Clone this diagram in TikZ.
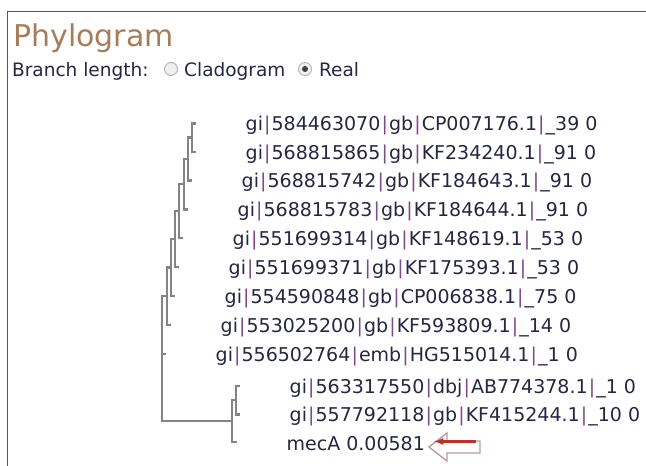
\documentclass[tikz,border=0pt]{standalone}
\usepackage{fontspec}
\setmainfont{DejaVu Sans}
\usetikzlibrary{positioning}
\definecolor{titlebrown}{RGB}{168,124,88}
\definecolor{navytext}{RGB}{38,38,66}
\definecolor{pipepurple}{RGB}{128,72,140}
\definecolor{branchgray}{RGB}{132,132,132}
\definecolor{framegray}{RGB}{85,85,85}
\definecolor{arrowred}{RGB}{192,48,42}
\definecolor{arrowrim}{RGB}{185,155,155}
\newcommand{\pp}{\kern1.1pt\textcolor{pipepurple}{|}\kern1.1pt}
\newcommand{\gi}[4]{gi\pp#1\pp#2\pp#3\pp\_#4 0}

\begin{document}
\begin{tikzpicture}[x=1pt,y=-1pt,
    branch/.style={draw=branchgray,line width=2.7pt},
    leaf/.style={text=navytext,inner sep=0pt,anchor=west,yshift=-2pt,
      font=\fontsize{19}{23}\selectfont},
    radio/.style={circle,draw=gray!60,fill=gray!12,line width=0.9pt,
      minimum size=13pt,inner sep=0pt}]
      \useasboundingbox (0,0) rectangle (646,466);
      \draw[framegray,line width=1.5pt] (7.5,466) -- (7.5,11.5) -- (646,11.5);

      % header
      \node[anchor=base west,inner sep=0pt,text=titlebrown,
        font=\fontsize{30}{34}\selectfont] (title) at (13,46) {Phylogram};
      \node[anchor=base west,inner sep=0pt,text=navytext,
        font=\fontsize{18.5}{22}\selectfont] (blen) at (12,76) {Branch length:};
      \node[radio] (rclad) at (171,69) {};
      \node[anchor=base west,inner sep=0pt,text=navytext,
        font=\fontsize{18.5}{22}\selectfont] (clad) at (184,76) {Cladogram};
      \node[radio] (rreal) at (305,69) {};
      \fill[black!75] (rreal.center) circle (3);
      \node[anchor=base west,inner sep=0pt,text=navytext,
        font=\fontsize{18.5}{22}\selectfont] (real) at (319,76) {Real};

      % leaf tips
      \coordinate (l1) at (196,123.5);
      \coordinate (l2) at (196,152);
      \coordinate (l3) at (192,180.5);
      \coordinate (l4) at (188,209.5);
      \coordinate (l5) at (183,238);
      \coordinate (l6) at (179,267);
      \coordinate (l7) at (175,296);
      \coordinate (l8) at (171,325);
      \coordinate (l9) at (166,354);
      \coordinate (l10) at (240,386);
      \coordinate (l11) at (240,414.5);
      \coordinate (l12) at (237,442);

      % inner nodes
      \coordinate (n1) at (192,137.75);
      \coordinate (n2) at (188,159);
      \coordinate (n3) at (184,184);
      \coordinate (n4) at (179,211);
      \coordinate (n5) at (175,239);
      \coordinate (n6) at (171,267.5);
      \coordinate (n7) at (167,296);
      \coordinate (root) at (162,354);
      \coordinate (a) at (232,421);
      \coordinate (b) at (236,400);

      \draw[branch] (l1) -| (n1) |- (l2);
      \draw[branch] (n1) -| (n2) |- (l3);
      \draw[branch] (n2) -| (n3) |- (l4);
      \draw[branch] (n3) -| (n4) |- (l5);
      \draw[branch] (n4) -| (n5) |- (l6);
      \draw[branch] (n5) -| (n6) |- (l7);
      \draw[branch] (n6) -| (n7) |- (l8);
      \draw[branch] (n7) -| (root) |- (a);
      \draw[branch] (root) -- (l9);
      \draw[branch] (b) -| (a) |- (l12);
      \draw[branch] (l10) -| (b) |- (l11);

      % labels
      \node[leaf,right=49.5pt of l1] (t1) {\gi{584463070}{gb}{CP007176.1}{39}};
      \node[leaf,right=49.5pt of l2] (t2) {\gi{568815865}{gb}{KF234240.1}{91}};
      \node[leaf,right=49.5pt of l3] (t3) {\gi{568815742}{gb}{KF184643.1}{91}};
      \node[leaf,right=49.5pt of l4] (t4) {\gi{568815783}{gb}{KF184644.1}{91}};
      \node[leaf,right=49.5pt of l5] (t5) {\gi{551699314}{gb}{KF148619.1}{53}};
      \node[leaf,right=49.5pt of l6] (t6) {\gi{551699371}{gb}{KF175393.1}{53}};
      \node[leaf,right=49.5pt of l7] (t7) {\gi{554590848}{gb}{CP006838.1}{75}};
      \node[leaf,right=49.5pt of l8] (t8) {\gi{553025200}{gb}{KF593809.1}{14}};
      \node[leaf,right=49.5pt of l9] (t9) {\gi{556502764}{emb}{HG515014.1}{1}};
      \node[leaf,right=49.5pt of l10] (t10) {\gi{563317550}{dbj}{AB774378.1}{1}};
      \node[leaf,right=49.5pt of l11] (t11) {\gi{557792118}{gb}{KF415244.1}{10}};
      \node[leaf,right=49.5pt of l12] (mec) {mecA 0.00581};

      % pointer
      \draw[arrowrim,line width=1.4pt,line join=miter]
        (429,447) -- (447,433) -- (447,441) -- (480,441) -- (480,453)
        -- (447,453) -- (447,461) -- cycle;
      \draw[arrowred,line width=2.2pt,-latex] (476,441.5) -- (434,441.5);
    \end{tikzpicture}
\end{document}
